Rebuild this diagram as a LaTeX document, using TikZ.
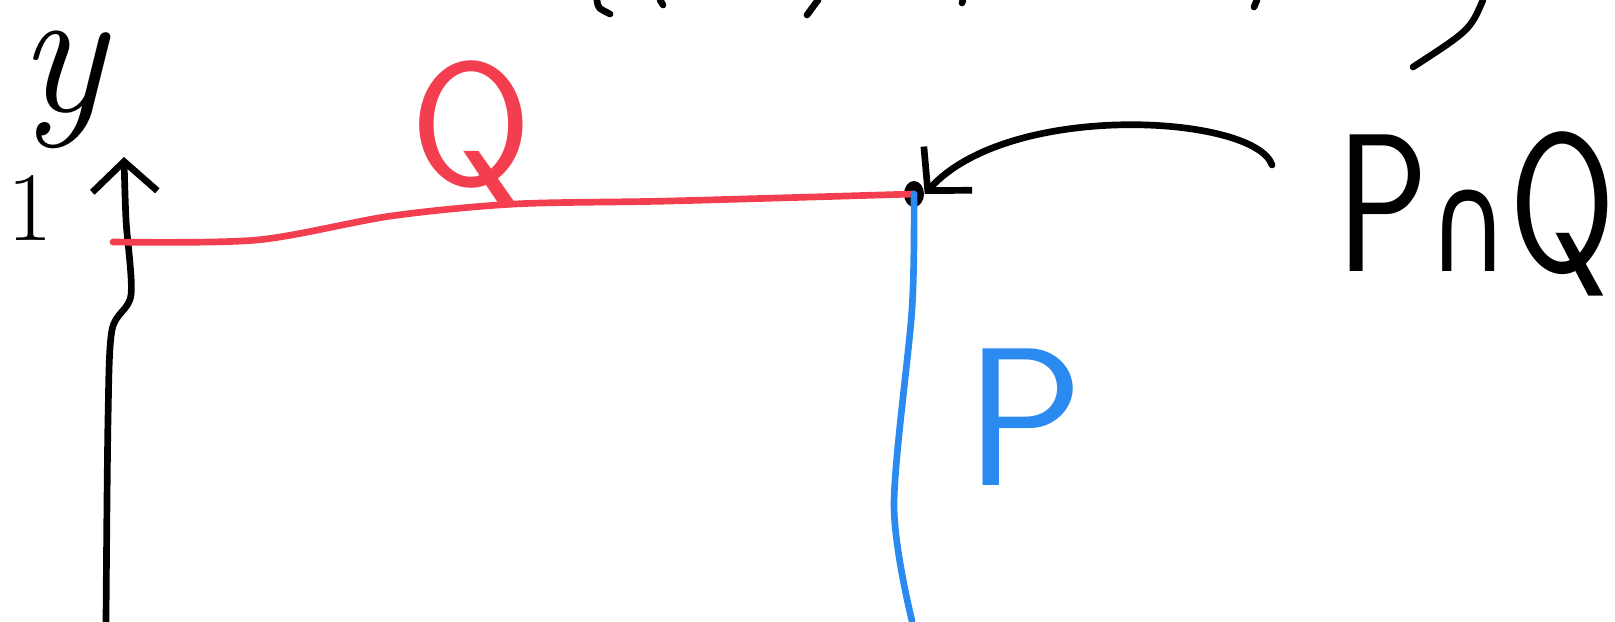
\documentclass[tikz,border=0pt]{standalone}
\usepackage{fontspec}
\newfontfamily\capfont{DejaVu Sans}
\usetikzlibrary{arrows.meta, shapes.geometric}
\definecolor{qred}{RGB}{242,62,78}
\definecolor{pblue}{RGB}{42,138,240}
\tikzset{
	pen/.style={line width=1.9pt, line cap=round, line join=round},
	barb/.style={-{Straight Barb[length=3mm,width=6.5mm,line width=1.9pt]}},
	hand/.style={font=\sffamily\fontsize{56}{56}\selectfont, inner sep=0pt}
}

\begin{document}
\begin{tikzpicture}[x=0.01cm,y=-0.01cm]
			\useasboundingbox (0,0) rectangle (1615,621);
			% cut-off strokes along the top edge
			\draw[pen](597,0) .. controls (598,8) .. (610,14);
			\draw[pen](660,0) -- (663,5);
			\draw[pen](818,0) -- (807,15);
			\draw[pen](963,0) -- (962,3);
			\draw[pen](1257,0) -- (1254,7);
			\draw[pen](1483,0) .. controls (1470,30) .. (1413,67);
			% axis
			\coordinate (origin) at (106,621);
			\coordinate (ytop) at (124,157);
			\draw[pen, barb] plot[smooth] coordinates {(origin) (108,420) (112,330) (131,295) (126,220) (ytop)};
			\node[inner sep=0pt, font=\itshape\fontsize{52}{52}\selectfont] (ylabel) at (62,90) {y};
			\node[inner sep=0pt, font=\fontsize{28}{28}\selectfont] (one) at (30,208) {1};
			% the point P and Q share
			\node[ellipse, fill=black, minimum width=0.2cm, minimum height=0.26cm, inner sep=0pt] (dot) at (914,194) {};
			\draw[pen, qred] plot[smooth] coordinates {(113,242) (257,240) (391,216) (515,204) (670,201) (dot.center)};
			\draw[pen, pblue] plot[smooth] coordinates {(dot.center) (912,309) (894,505) (912,621)};
			\node[hand, qred, font=\sffamily\fontsize{50}{50}\selectfont] (qlabel) at (471,134) {Q};
			\node[hand, pblue] (plabel) at (1025,417) {P};
			\node[hand, xscale=0.78, transform shape] (pq) at (1476,214) {P{\capfont\fontsize{40}{40}\selectfont ∩}Q};
			\coordinate (pq-tail) at (1272,165);
			\draw[pen, barb] (pq-tail) .. controls (1255,115) and (1010,100) .. (dot.east);
		\end{tikzpicture}
\end{document}
